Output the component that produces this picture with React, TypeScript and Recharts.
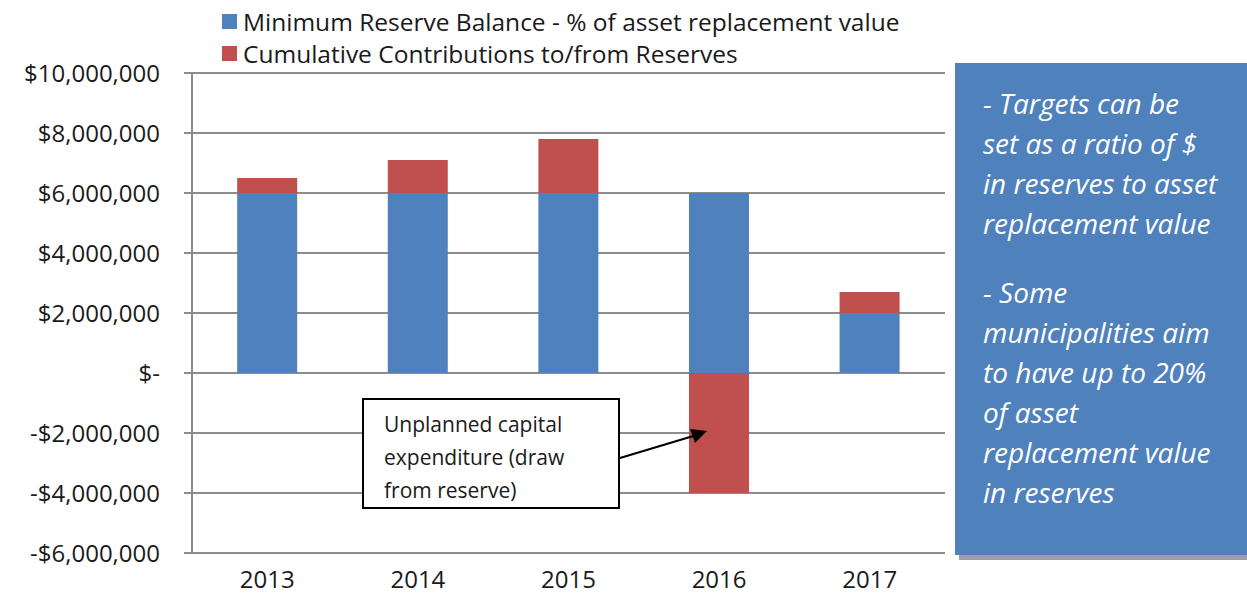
import { BarChart, Bar, XAxis, YAxis, CartesianGrid } from "recharts";

const BLUE = "#4F81BD";
const RED = "#C0504D";
const GRID = "#8c8c8c";
const FONT = "'Open Sans', Lato, sans-serif";

const years = ["2013", "2014", "2015", "2016", "2017"];
const minReserve = [6000000, 6000000, 6000000, 6000000, 2000000];
const contributions = [500000, 1100000, 1800000, -4000000, 700000];
const yTicks = [-6000000, -4000000, -2000000, 0, 2000000, 4000000, 6000000, 8000000, 10000000];

const data = years.map((y, i) => ({ year: y, minReserve: minReserve[i], contrib: contributions[i] }));

function money(n: number): string {
  if (n === 0) return "$-";
  const sign = n < 0 ? "-" : "";
  return `${sign}$${Math.abs(n).toLocaleString("en-US")}`;
}

function LegendBox() {
  const items = [
    { color: BLUE, label: "Minimum Reserve Balance - % of asset replacement value" },
    { color: RED, label: "Cumulative Contributions to/from Reserves" },
  ];
  return (
    <div style={{ position: "absolute", left: 222, top: 5, fontFamily: FONT, fontSize: 24.5, color: "#1a1a1a" }}>
      {items.map((it) => (
        <div key={it.label} style={{ display: "flex", alignItems: "center", height: 32 }}>
          <span style={{ width: 15, height: 15, background: it.color, marginRight: 6, display: "inline-block" }} />
          <span>{it.label}</span>
        </div>
      ))}
    </div>
  );
}

export default function App() {
  return (
    <div style={{ position: "absolute", left: 0, top: 0, width: 1247, height: 599, background: "#fff", overflow: "hidden" }}>
      <BarChart
        width={1247}
        height={599}
        data={data}
        stackOffset="sign"
        barCategoryGap="30%"
        margin={{ top: 73, right: 302, left: 0, bottom: 6 }}
      >
        <CartesianGrid stroke={GRID} strokeWidth={2} vertical={false} />
        <XAxis
          dataKey="year"
          axisLine={false}
          tickLine={false}
          height={40}
          tick={{ fontSize: 24, fill: "#1a1a1a", fontFamily: FONT }}
          tickMargin={12}
        />
        <YAxis
          width={192}
          domain={[-6000000, 10000000]}
          ticks={yTicks}
          interval={0}
          tickFormatter={money}
          axisLine={{ stroke: GRID, strokeWidth: 2 }}
          tickLine={{ stroke: GRID, strokeWidth: 2 }}
          tickSize={8}
          tickMargin={24}
          tick={{ fontSize: 24, fill: "#1a1a1a", fontFamily: FONT }}
        />
        <Bar dataKey="minReserve" stackId="a" fill={BLUE} isAnimationActive={false} />
        <Bar dataKey="contrib" stackId="a" fill={RED} isAnimationActive={false} />
      </BarChart>

      <LegendBox />

      {/* annotation callout */}
      <div
        style={{
          position: "absolute",
          left: 362,
          top: 398,
          width: 258,
          height: 111,
          border: "2px solid #000",
          background: "#fff",
          padding: "8px 6px 8px 20px",
          fontFamily: FONT,
          fontSize: 21,
          lineHeight: "33px",
          color: "#1a1a1a",
          boxSizing: "border-box",
        }}
      >
        Unplanned capital
        <br />
        expenditure (draw
        <br />
        from reserve)
      </div>
      <svg style={{ position: "absolute", left: 0, top: 0 }} width={1247} height={599}>
        <line x1={620} y1={458} x2={700} y2={434} stroke="#000" strokeWidth={2} />
        <path d="M707,431 L690,429 L695,443 z" fill="#000" />
      </svg>

      {/* side note */}
      <div
        style={{
          position: "absolute",
          left: 955,
          top: 63,
          width: 300,
          height: 492,
          background: BLUE,
          boxShadow: "4px 5px 0 #a0a0a0",
          color: "#fff",
          fontFamily: FONT,
          fontStyle: "italic",
          fontSize: 28,
          lineHeight: "40px",
          padding: "20px 0 0 28px",
          boxSizing: "border-box",
        }}
      >
        <div>- Targets can be</div>
        <div>set as a ratio of $</div>
        <div>in reserves to asset</div>
        <div>replacement value</div>
        <div style={{ height: 29 }} />
        <div>- Some</div>
        <div>municipalities aim</div>
        <div>to have up to 20%</div>
        <div>of asset</div>
        <div>replacement value</div>
        <div>in reserves</div>
      </div>
    </div>
  );
}
